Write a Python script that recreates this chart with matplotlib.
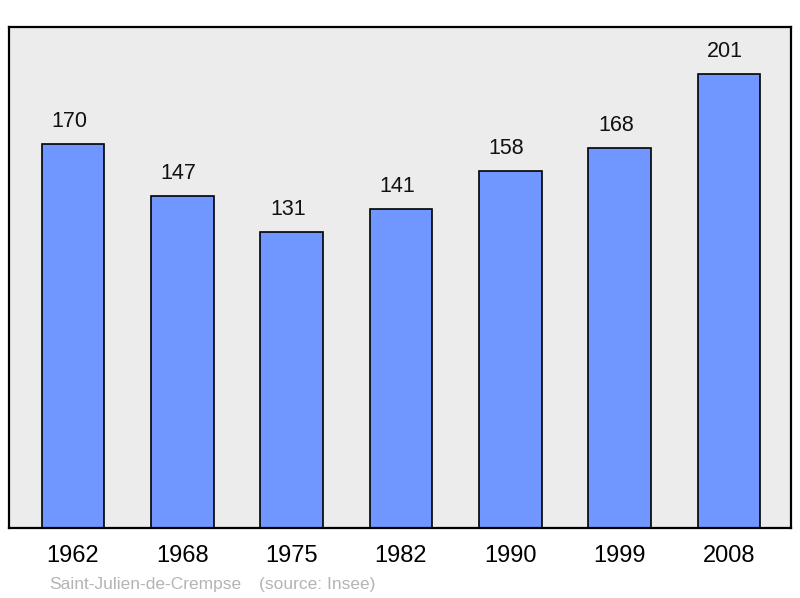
import matplotlib.pyplot as plt

plt.rcParams['font.family'] = ['Liberation Sans', 'DejaVu Sans']

years = ['1962', '1968', '1975', '1982', '1990', '1999', '2008']
population = [170, 147, 131, 141, 158, 168, 201]

fig = plt.figure(figsize=(8, 5.98), dpi=100)
ax = fig.add_axes([9 / 800, 70 / 598, 782 / 800, 501 / 598])
ax.set_facecolor('#ececec')

x = list(range(len(years)))
ax.bar(x, population, width=0.575, color='#7096ff', edgecolor='black', linewidth=1.2, zorder=2)
for xi, v in zip(x, population):
    ax.text(xi - 0.035, v + 10, str(v), ha='center', va='center', fontsize=15.5, color='#111111')

ax.set_xlim(-0.585, 6.567)
ax.set_ylim(0, 221.7)
ax.set_yticks([])
ax.set_xticks(x)
ax.set_xticklabels(years, fontsize=17)
ax.tick_params(axis='x', length=0, pad=12)
for s in ax.spines.values():
    s.set_linewidth(1.6)

fig.text(49 / 800, 1 - 584 / 598, 'Saint-Julien-de-Crempse', fontsize=12.5, color='#b4b4b4', va='center')
fig.text(259 / 800, 1 - 584 / 598, '(source: Insee)', fontsize=12.5, color='#b4b4b4', va='center')

fig.savefig('out.png', dpi=100)
